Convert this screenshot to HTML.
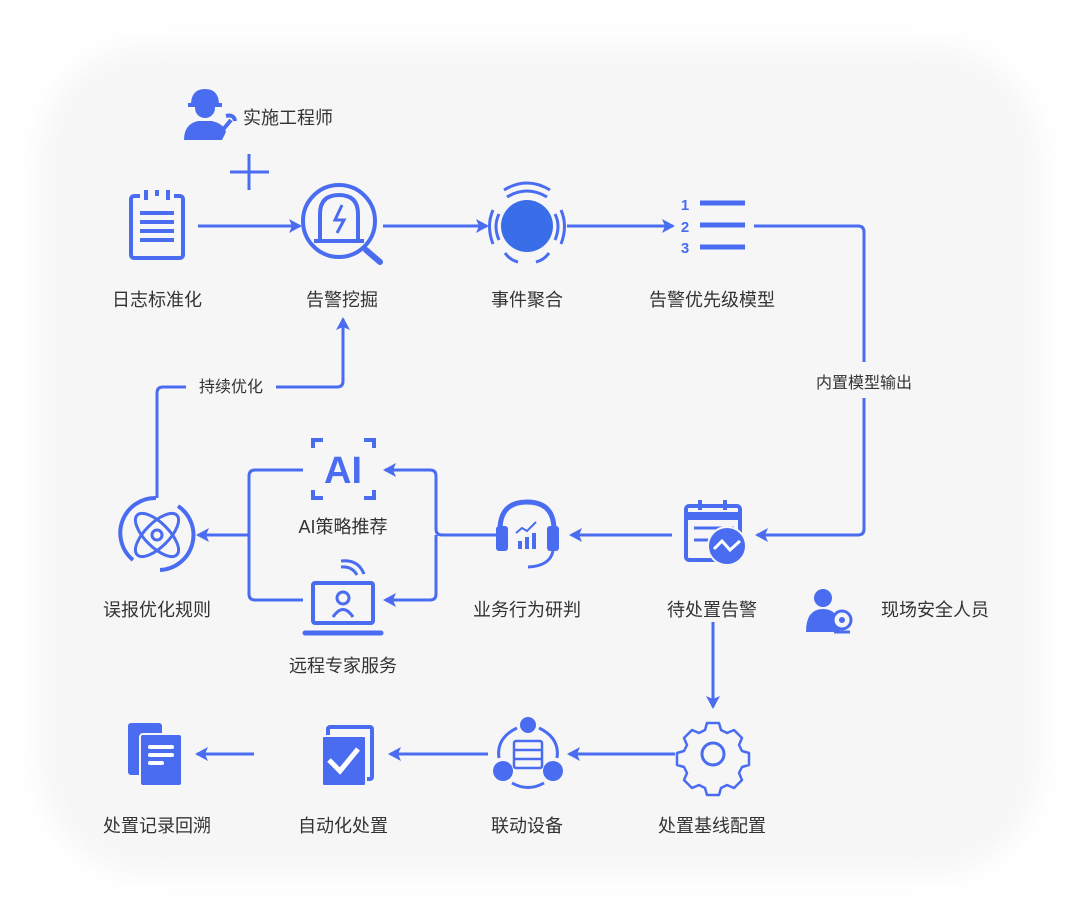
<!DOCTYPE html>
<html><head><meta charset="utf-8"><style>
html,body{margin:0;padding:0;background:#fff;width:1080px;height:921px;overflow:hidden}
.bg{position:absolute;left:40px;top:45px;width:1000px;height:830px;border-radius:110px;background:#f6f6f7;filter:blur(14px)}
svg{position:absolute;left:0;top:0}
text{font-family:"Liberation Sans","Noto Sans CJK SC",sans-serif;font-size:18px;fill:#333;text-anchor:middle}
</style></head><body>
<div class="bg"></div>
<svg width="1080" height="921" viewBox="0 0 1080 921">
<defs>
<marker id="a" markerWidth="14" markerHeight="16" refX="11" refY="8" orient="auto" markerUnits="userSpaceOnUse"><path d="M0,1 L13,8 L0,15 L3,8Z" fill="#4a6cf0"/></marker>
</defs>
<g stroke="#4a6cf0" stroke-width="3" fill="none" stroke-linejoin="round">
<line x1="198" y1="226" x2="300" y2="226" marker-end="url(#a)"/>
<line x1="383" y1="226" x2="487" y2="226" marker-end="url(#a)"/>
<line x1="567" y1="226" x2="673" y2="226" marker-end="url(#a)"/>
<path d="M754,226 H858 Q864,226 864,232 V362"/>
<path d="M864,398 V529 Q864,535 858,535 H757" marker-end="url(#a)"/>
<line x1="672" y1="535" x2="571" y2="535" marker-end="url(#a)"/>
<path d="M497,535 H442 Q436,535 436,529 V476 Q436,470 430,470 H385" marker-end="url(#a)"/>
<path d="M436,535 V594 Q436,600 430,600 H385" marker-end="url(#a)"/>
<path d="M303,470 H255 Q249,470 249,476 V594 Q249,600 255,600 H303"/>
<line x1="249" y1="535" x2="198" y2="535" marker-end="url(#a)"/>
<path d="M157,498 V393 Q157,387 163,387 H186"/>
<path d="M276,387 H337 Q343,387 343,381 V319" marker-end="url(#a)"/>
<line x1="249" y1="154" x2="249" y2="190"/><line x1="230" y1="172" x2="269" y2="172"/>
<line x1="713" y1="622" x2="713" y2="707" marker-end="url(#a)"/>
<line x1="675" y1="754" x2="569" y2="754" marker-end="url(#a)"/>
<line x1="488" y1="754" x2="390" y2="754" marker-end="url(#a)"/>
<line x1="254" y1="754" x2="197" y2="754" marker-end="url(#a)"/>
</g>
<g fill="#4a6cf0" stroke="#4a6cf0">
<!-- engineer -->
<circle cx="205" cy="108" r="10" stroke="none"/>
<path d="M191,103 Q192,89 205,89 Q218,89 219,103 H222 V107 H188 V103Z" stroke="none"/>
<path d="M184,140 Q184,124 198,121 L212,121 Q224,124 226,132 L222,140 Z" stroke="none"/>
<path d="M216,138 L231,120 M226,116 Q234,114 235,121" stroke-width="4" fill="none"/>
<!-- clipboard -->
<rect x="131" y="196" width="52" height="62" rx="3" fill="none" stroke-width="4"/>
<rect x="140" y="190" width="34" height="10" fill="#f6f6f7" stroke="none"/>
<path d="M146,190 v10 M157,190 v6 M168,190 v10" stroke-width="4"/>
<path d="M140,213 h34 M140,222 h34 M140,231 h34 M140,240 h34" stroke-width="4"/>
<!-- 告警挖掘 -->
<circle cx="339" cy="221" r="36" fill="none" stroke-width="4"/>
<path d="M366,250 L380,262" stroke-width="6" stroke-linecap="round"/>
<path d="M320,240 V214 Q320,195 339,195 Q358,195 358,214 V240" fill="none" stroke-width="4"/>
<path d="M314,241 H364" stroke-width="4"/>
<path d="M342,205 L335,220 H344 L337,233" fill="none" stroke-width="3"/>
<!-- 事件聚合 -->
<circle cx="527" cy="226" r="26" stroke="none" fill="#3a6ee8"/>
<g fill="none" stroke-width="3">
<path d="M507,197 Q527,185 547,197"/><path d="M504,190 Q527,176 550,190"/>
<path d="M499,214 Q493,226 499,240"/><path d="M493,210 Q486,226 493,244"/>
<path d="M555,214 Q561,226 555,240"/><path d="M561,210 Q568,226 561,244"/>
<path d="M505,253 Q510,260 518,262"/><path d="M549,253 Q544,260 536,262"/>
</g>
<text x="685" y="210" style="font-size:15px;font-weight:bold;fill:#4a6cf0" stroke="none">1</text>
<text x="685" y="232" style="font-size:15px;font-weight:bold;fill:#4a6cf0" stroke="none">2</text>
<text x="685" y="253" style="font-size:15px;font-weight:bold;fill:#4a6cf0" stroke="none">3</text>
<path d="M700,203 h45 M700,225 h45 M700,247 h45" stroke-width="5"/>
<!-- atom -->
<g fill="none" stroke-width="4">
<path d="M156,498 A35,35 0 0 0 133,560"/><path d="M160,570 A35,35 0 0 0 178,506"/>
<ellipse cx="157" cy="535" rx="28" ry="12" transform="rotate(45 157 535)" stroke-width="3"/>
<ellipse cx="157" cy="535" rx="28" ry="12" transform="rotate(-45 157 535)" stroke-width="3"/>
<circle cx="157" cy="535" r="5" stroke-width="3"/>
</g>
<!-- AI -->
<g fill="none" stroke-width="4">
<path d="M313,448 v-8 h10 M364,440 h10 v8 M313,490 v8 h10 M364,498 h10 v-8"/>
</g>
<text x="343" y="483" style="font-size:38px;font-weight:bold;fill:#4a6cf0" stroke="none">AI</text>
<!-- laptop -->
<rect x="313" y="583" width="60" height="40" rx="2" fill="none" stroke-width="4"/>
<path d="M305,633 h76" stroke-width="5" stroke-linecap="round"/>
<circle cx="343" cy="598" r="6" fill="none" stroke-width="3"/>
<path d="M333,617 Q343,602 353,617" fill="none" stroke-width="3"/>
<path d="M341,567 Q352,566 357,575 M341,561 Q358,559 364,574" fill="none" stroke-width="3"/>
<!-- headset -->
<path d="M500,545 V530 Q500,502 527,502 Q554,502 554,530 V545" fill="none" stroke-width="5"/>
<rect x="496" y="526" width="12" height="25" rx="3" stroke="none"/>
<rect x="547" y="526" width="12" height="25" rx="3" stroke="none"/>
<path d="M553,551 Q550,566 528,567" fill="none" stroke-width="3"/>
<rect x="518" y="541" width="4" height="8" stroke="none"/><rect x="525" y="537" width="4" height="12" stroke="none"/><rect x="532" y="533" width="4" height="16" stroke="none"/>
<path d="M516,533 L522,528 L527,531 L536,522" fill="none" stroke-width="2"/>
<!-- calendar -->
<rect x="686" y="506" width="54" height="54" rx="3" fill="none" stroke-width="4"/>
<path d="M686,512 h54 v8 h-54z" stroke="none"/>
<path d="M700,500 v10 M725,500 v10" stroke-width="4"/>
<path d="M694,528 h40 M694,540 h22" stroke-width="3"/>
<circle cx="727" cy="546" r="19" stroke="#f6f6f7" stroke-width="2"/>
<path d="M714,549 L722,541 L730,550 L740,541" fill="none" stroke="#fff" stroke-width="3"/>
<!-- person -->
<circle cx="823" cy="598" r="9" stroke="none"/>
<path d="M806,632 Q806,609 823,609 Q840,609 840,632 Z" stroke="none"/>
<circle cx="842" cy="620" r="9" fill="#f6f6f7" stroke-width="3"/>
<circle cx="842" cy="620" r="3" stroke="none"/>
<path d="M834,632 h16" stroke-width="3"/>
<!-- row3 -->
<rect x="128" y="723" width="34" height="52" rx="3" stroke="none"/>
<rect x="140" y="734" width="42" height="52" rx="3" stroke="#f6f6f7" stroke-width="2"/>
<path d="M150,747 h22 M150,755 h22 M150,763 h12" stroke="#fff" stroke-width="4" stroke-linecap="round"/>
<rect x="328" y="727" width="44" height="52" rx="2" fill="none" stroke-width="4"/>
<rect x="322" y="736" width="44" height="50" rx="2" stroke="#f6f6f7" stroke-width="2"/>
<path d="M329,760 L340,771 L358,749" fill="none" stroke="#fff" stroke-width="5"/>
<circle cx="528" cy="725" r="8" stroke="none"/>
<circle cx="503" cy="771" r="10" stroke="none"/><circle cx="553" cy="771" r="10" stroke="none"/>
<path d="M517,728 Q496,738 499,758 M539,728 Q560,738 557,758 M512,783 Q528,792 544,783" fill="none" stroke-width="3"/>
<rect x="514" y="741" width="28" height="27" rx="2" fill="none" stroke-width="2.5"/>
<path d="M514,750 h28 M514,759 h28" stroke-width="2.5"/>
<circle cx="713" cy="754" r="11" fill="none" stroke-width="3"/>
<path d="M707,723 h12 l2,7 l6,3 l7,-3 l8,8 l-3,7 l3,6 l7,2 v12 l-7,2 l-3,6 l3,7 l-8,8 l-7,-3 l-6,3 l-2,7 h-12 l-2,-7 l-6,-3 l-7,3 l-8,-8 l3,-7 l-3,-6 l-7,-2 v-12 l7,-2 l3,-6 l-3,-7 l8,-8 l7,3 l6,-3z" fill="none" stroke-width="2.5" stroke-linejoin="round"/>
</g>
<g>
<text x="288" y="124">实施工程师</text>
<text x="157" y="306">日志标准化</text>
<text x="342" y="306">告警挖掘</text>
<text x="527" y="306">事件聚合</text>
<text x="712" y="306">告警优先级模型</text>
<text x="864" y="388" style="font-size:16px">内置模型输出</text>
<text x="231" y="392" style="font-size:16px">持续优化</text>
<text x="343" y="533">AI策略推荐</text>
<text x="343" y="672">远程专家服务</text>
<text x="157" y="616">误报优化规则</text>
<text x="527" y="616">业务行为研判</text>
<text x="712" y="616">待处置告警</text>
<text x="935" y="616">现场安全人员</text>
<text x="157" y="832">处置记录回溯</text>
<text x="343" y="832">自动化处置</text>
<text x="527" y="832">联动设备</text>
<text x="712" y="832">处置基线配置</text>
</g>
</svg>
</body></html>
